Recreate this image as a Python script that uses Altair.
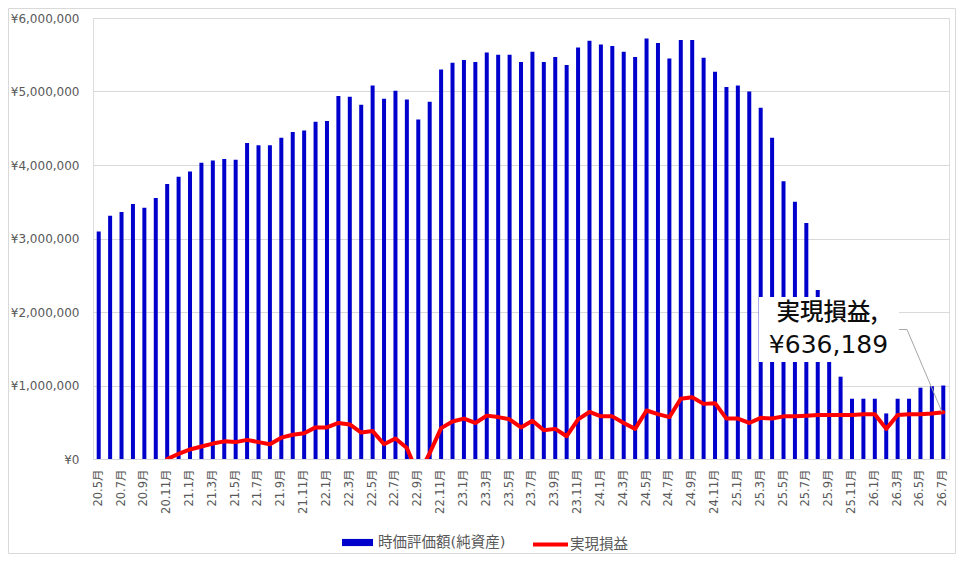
import altair as alt
import pandas as pd

# ---- categories -------------------------------------------------------
months = []
_y, _m = 20, 5
while (_y, _m) <= (26, 7):
    months.append(f"{_y}.{_m}月")
    _m += 1
    if _m > 12:
        _m = 1
        _y += 1
tick_labels = months[::2]

# ---- series values (yen) ----------------------------------------------
market_value = [
    3095000, 3310000, 3360000, 3470000, 3420000, 3550000, 3740000, 3840000,
    3910000, 4030000, 4060000, 4080000, 4070000, 4300000, 4270000, 4270000,
    4370000, 4450000, 4470000, 4590000, 4600000, 4940000, 4930000, 4820000,
    5080000, 4900000, 5010000, 4890000, 4620000, 4860000, 5300000, 5390000,
    5430000, 5400000, 5530000, 5500000, 5500000, 5400000, 5540000, 5400000,
    5470000, 5360000, 5600000, 5690000, 5640000, 5620000, 5540000, 5470000,
    5720000, 5660000, 5450000, 5700000, 5700000, 5460000, 5270000, 5060000,
    5080000, 5000000, 4780000, 4370000, 3780000, 3500000, 3210000, 2300000,
    1600000, 1120000, 820000, 820000, 820000, 620000, 820000, 820000,
    970000, 990000, 1000000,
]

realized = [
    None, None, None, None, None, None, 0, 70000,
    130000, 170000, 210000, 240000, 230000, 260000, 230000, 200000,
    290000, 330000, 350000, 430000, 430000, 490000, 470000, 360000,
    380000, 200000, 280000, 150000, -220000, 80000, 420000, 510000,
    550000, 490000, 590000, 570000, 540000, 430000, 520000, 390000,
    410000, 310000, 540000, 640000, 580000, 580000, 490000, 410000,
    660000, 610000, 570000, 820000, 840000, 750000, 760000, 550000,
    550000, 490000, 560000, 550000, 580000, 580000, 590000, 600000,
    600000, 600000, 600000, 610000, 610000, 410000, 600000, 610000,
    610000, 620000, 636189,
]

y_ticks = [0, 1000000, 2000000, 3000000, 4000000, 5000000, 6000000]
series_bar = "時価評価額(純資産)"
series_line = "実現損益"

label_line1 = series_line + ","
label_line2 = "¥" + f"{realized[-1]:,}"

df = pd.DataFrame({
    "month": months,
    "value": market_value,
    "realized": realized,
    "s1": series_bar,
    "s2": series_line,
})

FONT = "DejaVu Sans, Noto Sans CJK JP"
CJK = "Noto Sans CJK JP"
GRID = "#D9D9D9"
LABEL = "#595959"

x_enc = alt.X(
    "month:N",
    sort=months,
    scale=alt.Scale(paddingInner=0.65, paddingOuter=0.325),
    axis=alt.Axis(
        values=tick_labels, labelAngle=270, ticks=False, grid=False,
        domainColor=GRID, labelColor=LABEL, labelFontSize=11.5,
        labelFont=FONT, labelPadding=10, title=None,
    ),
)

y_axis = alt.Axis(
    values=y_ticks, grid=True, gridColor=GRID, domain=False, ticks=False,
    labelExpr="'¥' + format(datum.value, ',')", labelColor=LABEL,
    labelFontSize=12, labelFont=FONT, labelPadding=14, title=None,
)

base = alt.Chart(df)

bars = base.mark_bar().encode(
    x=x_enc,
    y=alt.Y("value:Q", scale=alt.Scale(domain=[0, 6000000]), axis=y_axis),
    fill=alt.Fill(
        "s1:N",
        scale=alt.Scale(domain=[series_bar], range=["#0000CC"]),
        legend=alt.Legend(
            orient="none", legendX=249, legendY=509, title=None,
            symbolType="M-1,-0.23L1,-0.23L1,0.23L-1,0.23Z", symbolSize=961,
            symbolStrokeWidth=0, labelFontSize=14.5, labelColor=LABEL,
            labelFont=FONT, labelOffset=5, padding=0,
        ),
    ),
)

line = base.mark_line(strokeWidth=4, strokeJoin="round", strokeCap="round", clip=True).encode(
    x=alt.X("month:N", sort=months),
    y=alt.Y("realized:Q", title=None),
    stroke=alt.Stroke(
        "s2:N",
        scale=alt.Scale(domain=[series_line], range=["#FF0000"]),
        legend=alt.Legend(
            orient="none", legendX=438, legendY=507, title=None,
            symbolType="stroke", symbolSize=1225, symbolStrokeWidth=4,
            labelFontSize=14.5, labelColor=LABEL, labelFont=FONT,
            labelOffset=0, padding=0,
        ),
    ),
)

one = alt.Chart(pd.DataFrame({"k": [0]}))

frame = one.mark_rect(fillOpacity=0, stroke=GRID, strokeWidth=1).encode(
    x=alt.value(-84.5), x2=alt.value(862.5), y=alt.value(-9.5), y2=alt.value(535.5)
)

box = one.mark_rect(fill="white").encode(
    x=alt.value(666), x2=alt.value(806), y=alt.value(279), y2=alt.value(344)
)

leader1 = one.mark_rule(color="#A6A6A6", strokeWidth=1).encode(
    x=alt.value(806), x2=alt.value(814), y=alt.value(311.5), y2=alt.value(311.5)
)
leader2 = one.mark_rule(color="#A6A6A6", strokeWidth=1).encode(
    x=alt.value(814), x2=alt.value(849), y=alt.value(311.5), y2=alt.value(394)
)

txt1 = one.mark_text(align="center", baseline="middle", fontSize=23.5, font=CJK,
                     fontWeight=500, color="#0D0D0D").encode(
    x=alt.value(734), y=alt.value(295), text=alt.value(label_line1)
)
txt2 = one.mark_text(align="center", baseline="middle", fontSize=25, font="DejaVu Sans",
                     color="#0D0D0D").encode(
    x=alt.value(735.5), y=alt.value(327), text=alt.value(label_line2)
)

chart = alt.layer(frame, bars, line, box, leader1, leader2, txt1, txt2).properties(
    width=856,
    height=441,
    autosize=alt.AutoSizeParams(type="none"),
    padding={"left": 85, "top": 10, "right": 7, "bottom": 95},
).configure_view(stroke=None).configure(font=FONT, background="white")

chart.save("out.html", embed_options={"renderer": "svg", "actions": False})
